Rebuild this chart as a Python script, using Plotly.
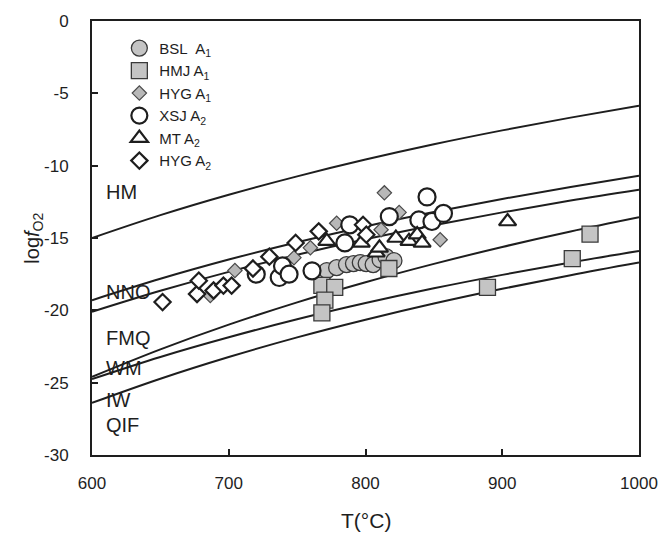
import plotly.graph_objects as go

# ---- buffer curves (log fO2 vs T, read at 50 °C steps) ----
T_grid = [600, 650, 700, 750, 800, 850, 900, 950, 1000]
HM  = [-15.00, -13.42, -12.01, -10.74, -9.58, -8.52, -7.56, -6.68, -5.86]
NNO = [-19.30, -17.82, -16.49, -15.29, -14.20, -13.21, -12.30, -11.47, -10.70]
FMQ = [-20.10, -18.65, -17.34, -16.16, -15.09, -14.12, -13.23, -12.41, -11.66]
WM  = [-24.60, -22.70, -20.99, -19.45, -18.06, -16.79, -15.62, -14.55, -13.57]
IW  = [-24.75, -23.22, -21.86, -20.62, -19.50, -18.48, -17.55, -16.69, -15.90]
QIF = [-26.40, -24.73, -23.23, -21.87, -20.65, -19.53, -18.51, -17.57, -16.70]
buffer_names = ["HM", "NNO", "FMQ", "WM", "IW", "QIF"]
buffer_label_y = [-11.8, -18.7, -21.9, -24.0, -26.2, -27.9]

# ---- samples ----
bsl_T = [771.7, 778.9, 786.1, 791.2, 796.2, 800.5, 805.6, 810.7, 815.0, 820.8]
bsl_v = [-17.25, -17.05, -16.84, -16.77, -16.70, -16.77, -16.84, -16.50, -16.29, -16.57]

hmj_T = [768.1, 777.5, 770.3, 768.1, 817.1, 889.2, 951.2, 964.2]
hmj_v = [-18.27, -18.41, -19.30, -20.18, -17.11, -18.41, -16.43, -14.73]

hyg1_T = [686.5, 704.5, 747.7, 759.7, 778.9, 811.4, 813.8, 824.6, 854.6]
hyg1_v = [-18.97, -17.25, -16.36, -15.68, -13.98, -14.43, -11.88, -13.23, -15.12]

xsj_T = [720.1, 736.9, 739.3, 744.1, 760.9, 784.9, 788.5, 817.4, 839.0, 845.0, 848.6, 857.0]
xsj_v = [-17.50, -17.73, -16.93, -17.50, -17.27, -15.34, -14.09, -13.52, -13.75, -12.16, -13.86, -13.30]

mt_T = [771.7, 796.9, 807.8, 810.2, 822.2, 831.8, 837.8, 841.4, 903.9]
mt_v = [-15.22, -15.34, -16.02, -15.68, -15.00, -15.22, -14.77, -15.34, -13.86]

hyg2_T = [651.6, 676.8, 678.1, 688.9, 696.1, 702.1, 717.7, 729.7, 748.9, 765.8, 798.2, 800.6]
hyg2_v = [-19.43, -18.87, -17.95, -18.63, -18.29, -18.29, -17.11, -16.29, -15.34, -14.54, -14.09, -14.77]

x_ticks = [600, 700, 800, 900, 1000]
y_ticks = [0, -5, -10, -15, -20, -25, -30]
y_ticktext = ["0", "-5", "-10", "-15", "-20", "-25", "-30"]

FONT = "Arial, Liberation Sans, sans-serif"
INK = "#1e1e1e"
GRAY = "#c4c4c4"

fig = go.Figure()

for vals in [HM, NNO, FMQ, WM, IW, QIF]:
    fig.add_trace(go.Scatter(x=T_grid, y=vals, mode="lines",
                             line=dict(color=INK, width=2, shape="spline"),
                             showlegend=False, hoverinfo="skip"))

series = [
    ("BSL\u00a0 A<sub>1</sub>", bsl_T, bsl_v, "circle", 16, GRAY, "#3a3a3a", 1.3),
    ("HMJ A<sub>1</sub>", hmj_T, hmj_v, "square", 16, GRAY, "#3a3a3a", 1.3),
    ("HYG A<sub>1</sub>", hyg1_T, hyg1_v, "diamond", 11, "#b8b8b8", "#4a4a4a", 1.2),
    ("XSJ A<sub>2</sub>", xsj_T, xsj_v, "circle", 17, "white", INK, 2.2),
    ("MT A<sub>2</sub>", mt_T, mt_v, "triangle-up", 15, "white", INK, 2.2),
    ("HYG A<sub>2</sub>", hyg2_T, hyg2_v, "diamond", 12.5, "white", INK, 2.2),
]
for name, xs, ys, sym, size, fill, edge, lw in series:
    fig.add_trace(go.Scatter(x=xs, y=ys, mode="markers", name=name,
                             marker=dict(symbol=sym, size=size, color=fill,
                                         line=dict(color=edge, width=lw))))

for name, ly in zip(buffer_names, buffer_label_y):
    fig.add_annotation(x=608.5, y=ly, text=name, showarrow=False, xanchor="left",
                       yanchor="middle", font=dict(family=FONT, size=20, color=INK))

fig.add_annotation(xref="paper", yref="paper", x=-0.135, y=0.5,
                   text="log<i>f</i><sub>O2</sub>", textangle=-90, showarrow=False,
                   font=dict(family=FONT, size=20, color=INK))
fig.add_annotation(xref="paper", yref="paper", x=0.5, y=-0.152,
                   text="T(°C)", showarrow=False, yanchor="middle",
                   font=dict(family=FONT, size=21, color=INK))

fig.update_layout(
    width=670, height=553,
    margin=dict(l=92, r=23, t=15, b=98),
    paper_bgcolor="white", plot_bgcolor="white",
    font=dict(family=FONT, size=17, color=INK),
    showlegend=True,
    legend=dict(x=0.05, y=0.975, xanchor="left", yanchor="top",
                bgcolor="rgba(0,0,0,0)", font=dict(family=FONT, size=15, color=INK),
                tracegroupgap=0, itemwidth=30),
)
fig.update_xaxes(range=[600, 1000], tickvals=x_ticks, ticks="inside", ticklen=6,
                 tickwidth=1.5, tickcolor=INK, showline=True, linewidth=2,
                 linecolor=INK, mirror=True, showgrid=False, zeroline=False,
                 ticklabelstandoff=12)
fig.update_yaxes(range=[-30, 0], tickvals=y_ticks, ticktext=y_ticktext,
                 ticks="inside", ticklen=6, tickwidth=1.5, tickcolor=INK,
                 showline=True, linewidth=2, linecolor=INK, mirror=True,
                 showgrid=False, zeroline=False, ticklabelstandoff=18)

fig.write_html("out.html")
